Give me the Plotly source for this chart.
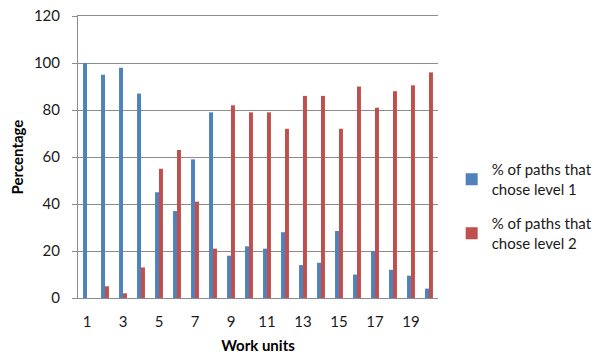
import plotly.graph_objects as go

work_units = list(range(1, 21))
level1 = [100, 95, 98, 87, 45, 37, 59, 79, 18, 22, 21, 28, 14, 15, 28.5, 10, 20, 12, 9.5, 4]
level2 = [0, 5, 2, 13, 55, 63, 41, 21, 82, 79, 79, 72, 86, 86, 72, 90, 81, 88, 90.5, 96]
x_tick_labels = [str(v) for v in range(1, 20, 2)]
y_ticks = [0, 20, 40, 60, 80, 100, 120]

FONT = "Lato"
GRID = "#8c8c8c"

fig = go.Figure()
fig.add_trace(go.Bar(x=work_units, y=level1, name="% of paths that<br>chose level 1",
                     marker=dict(color="#4F81BD", line=dict(width=0)), legendgroup="a"))
fig.add_trace(go.Bar(x=work_units, y=level2, name="% of paths that<br>chose level 2",
                     marker=dict(color="#C0504D", line=dict(width=0)), legendgroup="b"))

fig.update_layout(
    width=604, height=358,
    margin=dict(l=70, r=174, t=8, b=68, autoexpand=False),
    paper_bgcolor="white", plot_bgcolor="white",
    barmode="group", bargap=0.56, bargroupgap=0,
    font=dict(family=FONT, size=15, color="#1a1a1a"),
    legend=dict(x=1.038, xanchor="left", y=0.325, yanchor="middle",
                traceorder="grouped", tracegroupgap=12,
                font=dict(family=FONT, size=15, color="#1a1a1a"),
                itemwidth=30, bgcolor="rgba(0,0,0,0)"),
    xaxis=dict(range=[0.5, 20.5], tickmode="array", tickvals=list(range(1, 20, 2)),
               ticktext=x_tick_labels, showgrid=False, zeroline=False, automargin=False,
               showline=True, mirror=True, linecolor=GRID, linewidth=1, ticks="",
               ticklabelstandoff=10, ticklabeloverflow="allow",
               title=dict(text="<b>Work units</b>", font=dict(family=FONT, size=15, color="#000"),
                          standoff=11)),
    yaxis=dict(range=[0, 120], tickmode="array", tickvals=y_ticks, showgrid=True,
               gridcolor=GRID, gridwidth=1, zeroline=False, showline=True, automargin=False,
               linecolor=GRID, linewidth=1, ticks="outside", ticklen=5, tickcolor=GRID,
               ticklabelstandoff=9, ticklabeloverflow="allow",
               title=dict(text="<b>Percentage</b>", font=dict(family=FONT, size=15, color="#000"),
                          standoff=12)),
)

fig.write_html("out.html")
